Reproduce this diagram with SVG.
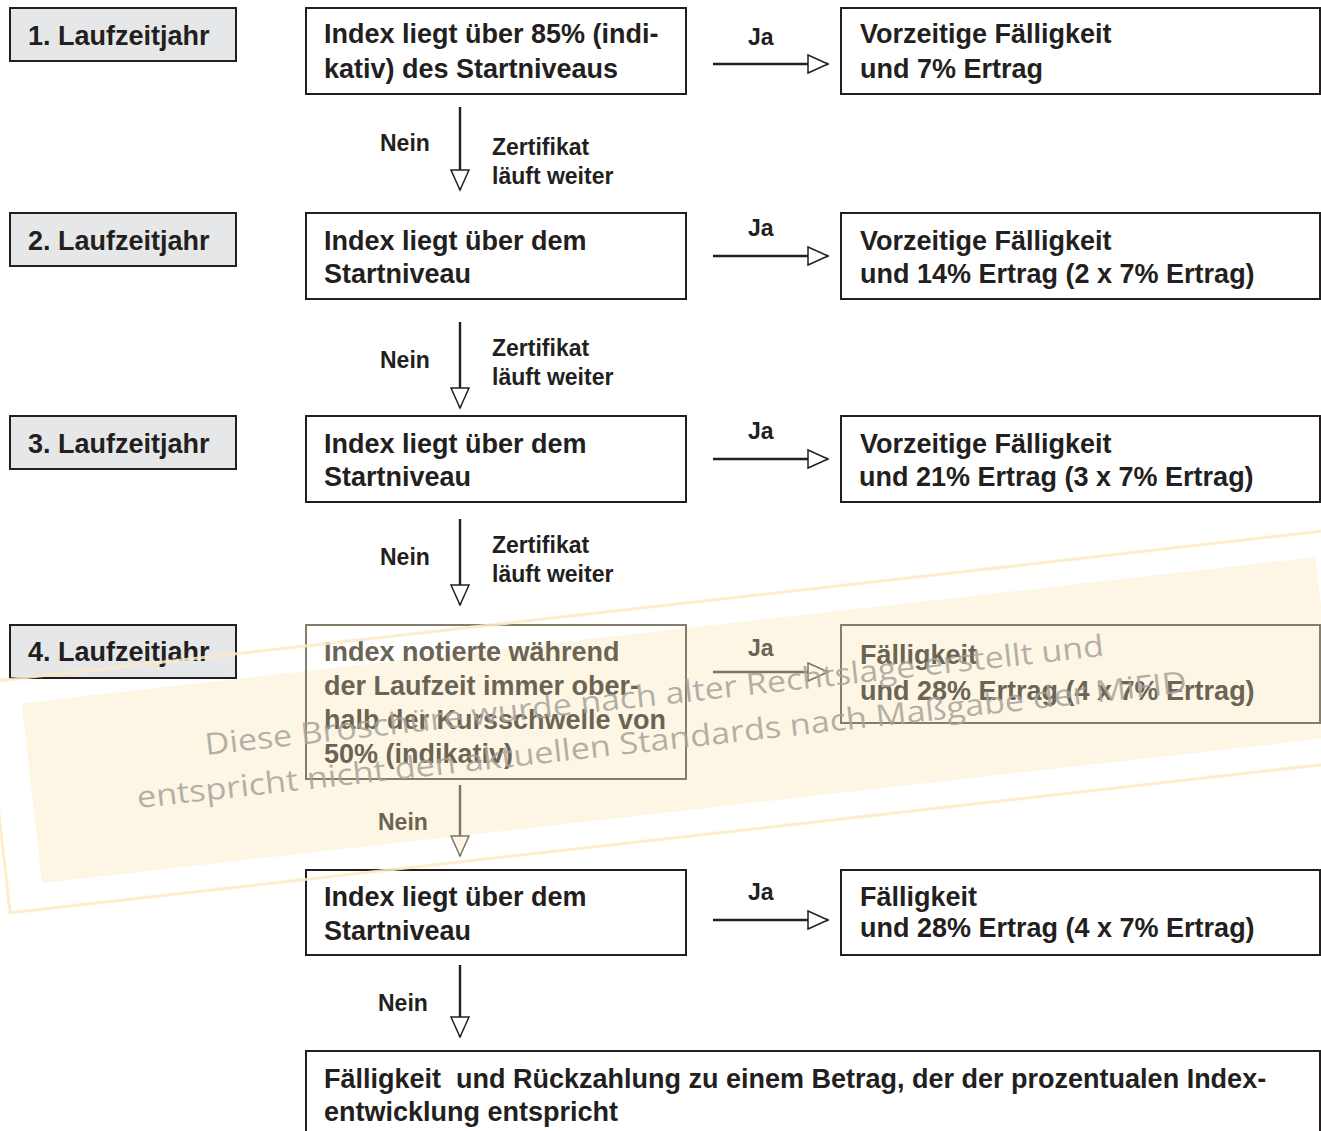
<svg xmlns="http://www.w3.org/2000/svg" width="1321" height="1131" viewBox="0 0 1321 1131">
<defs>
<style>
.box{fill:#fff;stroke:#231f20;stroke-width:2}
.fbox{fill:none;stroke:#857d6b;stroke-width:2}
.year{fill:#e6e7e8;stroke:#231f20;stroke-width:2}
.t{font-family:"Liberation Sans",Arial,sans-serif;font-weight:bold;font-size:27px;fill:#231f20}
.ft{font-family:"Liberation Sans",Arial,sans-serif;font-weight:bold;font-size:27px;fill:#6b6454}
.s{font-family:"Liberation Sans",Arial,sans-serif;font-weight:bold;font-size:23px;fill:#231f20}
.fs{font-family:"Liberation Sans",Arial,sans-serif;font-weight:bold;font-size:23px;fill:#6b6454}
.conn{stroke:#231f20;stroke-width:2.4;fill:none;marker-end:url(#arr)}
.fconn{stroke:#7d7563;stroke-width:2.4;fill:none;marker-end:url(#arrf)}
.wm{font-family:"Open Sans","DejaVu Sans",sans-serif;font-size:30px;fill:#a5a29c;fill-opacity:0.85}
.pre{white-space:pre}
</style>
<marker id="arr" markerUnits="userSpaceOnUse" markerWidth="24" markerHeight="22" viewBox="-2 -2 24 22" refX="20" refY="9" orient="auto"><path d="M0,0 L20,9 L0,18 Z" fill="#fff" stroke="#231f20" stroke-width="1.5"/></marker>
<marker id="arrf" markerUnits="userSpaceOnUse" markerWidth="24" markerHeight="22" viewBox="-2 -2 24 22" refX="20" refY="9" orient="auto"><path d="M0,0 L20,9 L0,18 Z" fill="#fdf6e4" stroke="#7d7563" stroke-width="1.5"/></marker>
</defs>

<g id="watermark-band">
<g transform="translate(42,883) rotate(-6.44)"><rect x="0" y="-181" width="1302" height="181" fill="#fdf6e4"/></g>
</g>

<g id="year1"><rect class="year" x="10" y="8" width="226" height="53"/><text class="t" x="28" y="45">1. Laufzeitjahr</text></g>
<g id="year2"><rect class="year" x="10" y="213" width="226" height="53"/><text class="t" x="28" y="250">2. Laufzeitjahr</text></g>
<g id="year3"><rect class="year" x="10" y="416" width="226" height="53"/><text class="t" x="28" y="453">3. Laufzeitjahr</text></g>
<g id="year4"><rect class="year" x="10" y="625" width="226" height="53"/><text class="t" x="28" y="661">4. Laufzeitjahr</text></g>

<g id="cond1"><rect class="box" x="306" y="8" width="380" height="86"/><text class="t" x="324" y="43">Index liegt über 85% (indi-</text><text class="t" x="324" y="78">kativ) des Startniveaus</text></g>
<g id="cond2"><rect class="box" x="306" y="213" width="380" height="86"/><text class="t" x="324" y="250">Index liegt über dem</text><text class="t" x="324" y="283">Startniveau</text></g>
<g id="cond3"><rect class="box" x="306" y="416" width="380" height="86"/><text class="t" x="324" y="453">Index liegt über dem</text><text class="t" x="324" y="486">Startniveau</text></g>
<g id="cond4"><rect class="fbox" x="306" y="625" width="380" height="154"/><text class="ft" x="324" y="661">Index notierte während</text><text class="ft" x="324" y="695">der Laufzeit immer ober-</text><text class="ft" x="324" y="729">halb der Kursschwelle von</text><text class="ft" x="324" y="763">50% (indikativ)</text></g>
<g id="cond5"><rect class="box" x="306" y="870" width="380" height="85"/><text class="t" x="324" y="906">Index liegt über dem</text><text class="t" x="324" y="940">Startniveau</text></g>

<g id="res1"><rect class="box" x="841" y="8" width="479" height="86"/><text class="t" x="860" y="43">Vorzeitige Fälligkeit</text><text class="t" x="860" y="78">und 7% Ertrag</text></g>
<g id="res2"><rect class="box" x="841" y="213" width="479" height="86"/><text class="t" x="860" y="250">Vorzeitige Fälligkeit</text><text class="t" x="860" y="283">und 14% Ertrag (2 x 7% Ertrag)</text></g>
<g id="res3"><rect class="box" x="841" y="416" width="479" height="86"/><text class="t" x="860" y="453">Vorzeitige Fälligkeit</text><text class="t" x="859" y="486">und 21% Ertrag (3 x 7% Ertrag)</text></g>
<g id="res4"><rect class="fbox" x="841" y="625" width="479" height="98"/><text class="ft" x="860" y="664">Fälligkeit</text><text class="ft" x="860" y="700">und 28% Ertrag (4 x 7% Ertrag)</text></g>
<g id="res5"><rect class="box" x="841" y="870" width="479" height="85"/><text class="t" x="860" y="906">Fälligkeit</text><text class="t" x="860" y="937">und 28% Ertrag (4 x 7% Ertrag)</text></g>

<g id="final"><rect class="box" x="306" y="1051" width="1014" height="100"/><text class="t pre" x="324" y="1088">Fälligkeit  und Rückzahlung zu einem Betrag, der der prozentualen Index-</text><text class="t" x="324" y="1121">entwicklung entspricht</text></g>

<g id="connectors">
<path class="conn" d="M713,64 H828"/>
<path class="conn" d="M713,256 H828"/>
<path class="conn" d="M713,459 H828"/>
<path class="fconn" d="M713,672 H828"/>
<path class="conn" d="M713,920 H828"/>
<path class="conn" d="M460,107 V190"/>
<path class="conn" d="M460,322 V408"/>
<path class="conn" d="M460,519 V605"/>
<path class="fconn" d="M460,785 V856"/>
<path class="conn" d="M460,965 V1037"/>
<text class="s" x="748" y="45">Ja</text>
<text class="s" x="748" y="236">Ja</text>
<text class="s" x="748" y="439">Ja</text>
<text class="fs" x="748" y="656">Ja</text>
<text class="s" x="748" y="900">Ja</text>
<text class="s" x="380" y="151">Nein</text>
<text class="s" x="492" y="155">Zertifikat</text>
<text class="s" x="492" y="184">läuft weiter</text>
<text class="s" x="380" y="368">Nein</text>
<text class="s" x="492" y="356">Zertifikat</text>
<text class="s" x="492" y="385">läuft weiter</text>
<text class="s" x="380" y="565">Nein</text>
<text class="s" x="492" y="553">Zertifikat</text>
<text class="s" x="492" y="582">läuft weiter</text>
<text class="fs" x="378" y="830">Nein</text>
<text class="s" x="378" y="1011">Nein</text>
</g>

<g id="watermark">
<text class="wm" x="206" y="755" transform="rotate(-6.3 206 755)" textLength="904" lengthAdjust="spacingAndGlyphs">Diese Broschüre wurde nach alter Rechtslage erstellt und</text>
<text class="wm" x="138" y="808" transform="rotate(-6.3 138 808)" textLength="1056" lengthAdjust="spacingAndGlyphs">entspricht nicht den aktuellen Standards nach Maßgabe der MiFID</text>
<g transform="translate(42,883) rotate(-6.44)"><rect x="-35" y="-206" width="1372" height="232" fill="none" stroke="#fcebc4" stroke-opacity="0.85" stroke-width="3"/></g>
</g>
</svg>
